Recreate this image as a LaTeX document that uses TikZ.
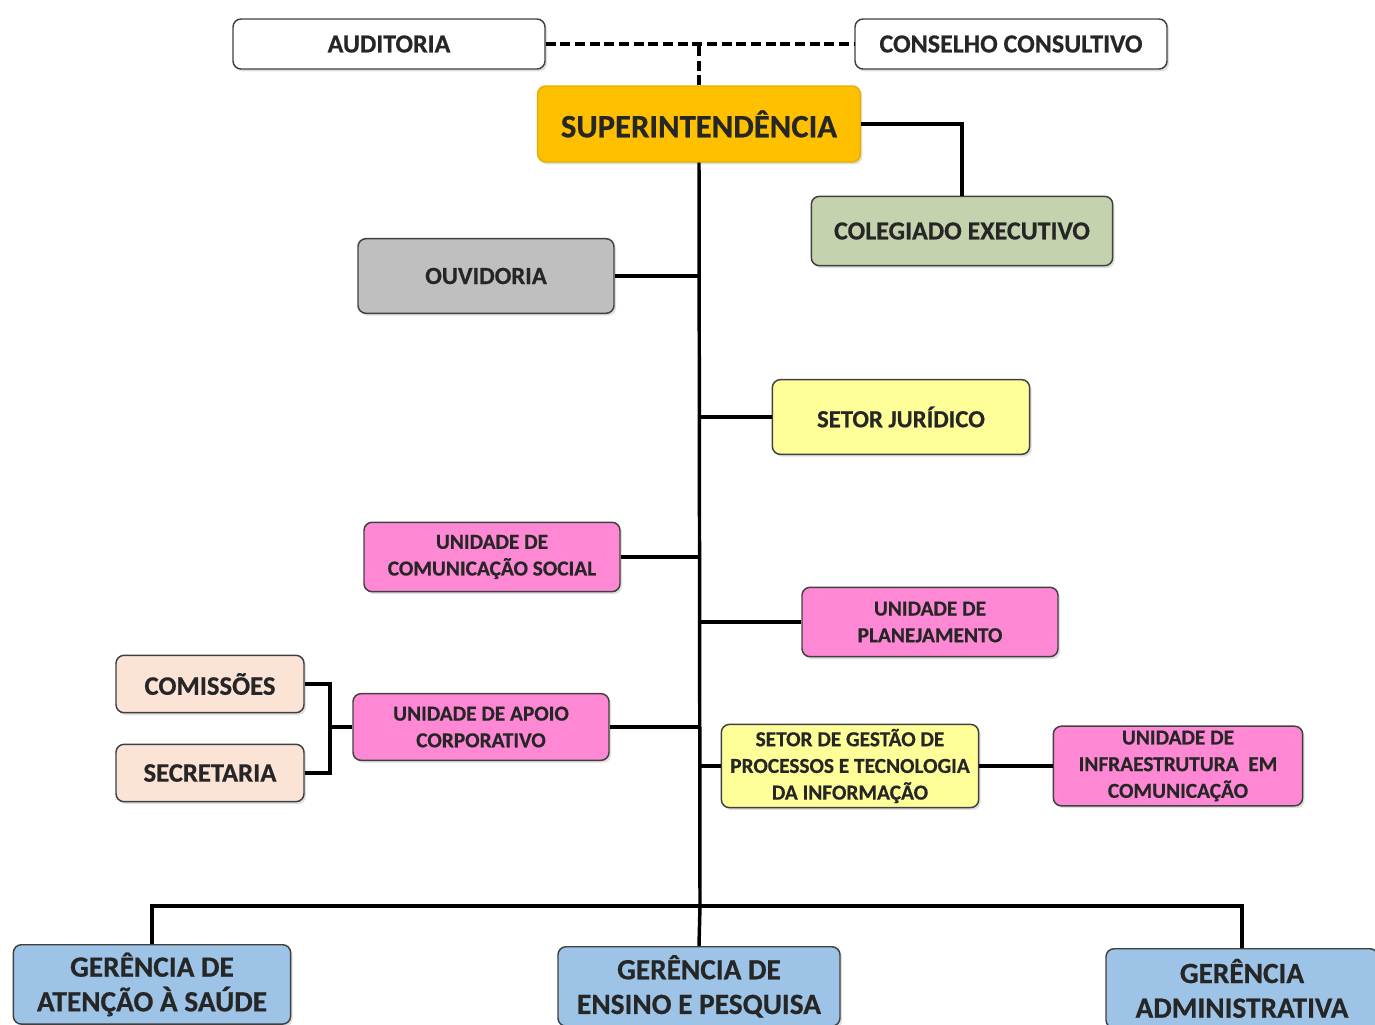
\documentclass[tikz,border=0pt]{standalone}
\usepackage{fontspec}
\setmainfont{Carlito}[BoldFeatures={FakeBold=0.6}]
\usetikzlibrary{shadows}

\definecolor{ouro}{HTML}{FFC000}
\definecolor{salvia}{HTML}{C4D3AE}
\definecolor{cinza}{HTML}{BFBFBF}
\definecolor{amarelo}{HTML}{FFFF99}
\definecolor{rosa}{HTML}{FF88D4}
\definecolor{pessego}{HTML}{FBE4D5}
\definecolor{azul}{HTML}{9DC3E6}

\begin{document}
\begin{tikzpicture}[x=0.75pt,y=-0.75pt]
        \tikzstyle{box} = [draw=black!75,line width=1.1pt,rounded corners=6pt,align=center,text=black!85,
          drop shadow={opacity=0.25,shadow xshift=1.5pt,shadow yshift=-1.8pt}]
        \tikzstyle{link} = [line width=2.6pt,black]
        \tikzstyle{dashlink} = [line width=2.8pt,black,dash pattern=on 7.5pt off 3.5pt]
        \tikzstyle{top} = [box,fill=white,minimum width=234pt,minimum height=37.5pt,font=\bfseries\fontsize{19.5}{22}\selectfont]
        \tikzstyle{unit} = [box,minimum width=192pt,inner xsep=1pt,font=\bfseries\fontsize{16}{20}\selectfont]
        \tikzstyle{side} = [box,fill=pessego,minimum width=141pt,minimum height=43pt,font=\bfseries\fontsize{20}{22}\selectfont]
        \tikzstyle{manager} = [box,fill=azul,anchor=north,minimum height=59.5pt,font=\bfseries\fontsize{22}{26}\selectfont]
        \clip (0,0) rectangle (1375,1025);
        % topo
        \node[top] (auditoria) at (389,44) {AUDITORIA};
        \node[top] (conselho) at (1011,44) {CONSELHO CONSULTIVO};
        \node[box,fill=ouro,draw=ouro!90!black,minimum width=242pt,minimum height=57pt,font=\bfseries\fontsize{24.5}{26}\selectfont] (super) at (699,124) {SUPERINTENDÊNCIA};
        \node[box,fill=salvia,minimum width=226pt,minimum height=52pt,font=\bfseries\fontsize{19.5}{22}\selectfont] (colegiado) at (962,231) {COLEGIADO EXECUTIVO};
        % unidades ao longo do eixo
        \node[unit,fill=cinza,minimum height=56pt,font=\bfseries\fontsize{18.5}{20}\selectfont] (ouvidoria) at (486,276) {OUVIDORIA};
        \node[unit,fill=amarelo,minimum width=193pt,minimum height=56pt,font=\bfseries\fontsize{18.5}{20}\selectfont] (juridico) at (901,417) {SETOR JURÍDICO};
        \node[unit,fill=rosa,minimum height=52pt] (comunicacao) at (492,557) {UNIDADE DE\\COMUNICAÇÃO SOCIAL};
        \node[unit,fill=rosa,minimum height=52pt] (planejamento) at (930,622) {UNIDADE DE\\PLANEJAMENTO};
        \node[unit,fill=rosa,minimum height=50pt] (apoio) at (481,727) {UNIDADE DE APOIO\\CORPORATIVO};
        \node[side] (comissoes) at (210,684) {COMISSÕES};
        \node[side] (secretaria) at (210,773) {SECRETARIA};
        \node[unit,fill=amarelo,minimum width=193pt,minimum height=61.5pt] (gestao) at (850,766) {SETOR DE GESTÃO DE\\PROCESSOS E TECNOLOGIA\\DA INFORMAÇÃO};
        \node[unit,fill=rosa,minimum width=187pt,minimum height=59pt] (infra) at (1178,766) {UNIDADE DE\\INFRAESTRUTURA\ \ EM\\COMUNICAÇÃO};
        % gerencias
        \node[manager,minimum width=208pt] (atencao) at (152,944) {GERÊNCIA DE\\ATENÇÃO À SAÚDE};
        \node[manager,minimum width=211.5pt] (ensino) at (699,946) {GERÊNCIA DE\\ENSINO E PESQUISA};
        \node[manager,minimum width=204pt] (admin) at (1242,948) {GERÊNCIA\\ADMINISTRATIVA};
        \coordinate (trunk) at (700,906);
        \coordinate (brace) at (330,727);
        % ligacoes
        \draw[dashlink] (auditoria.east) -- (conselho.west);
        \draw[dashlink] (super.north) -- (super.north |- auditoria.east);
        \draw[link] (super.east) -| (colegiado.north);
        \draw[link] (super.south) -- (trunk);
        \foreach \u in {ouvidoria,comunicacao,apoio}
          \draw[link] (\u.east) -- (\u.east -| trunk);
        \foreach \u in {juridico,planejamento,gestao}
          \draw[link] (\u.west) -- (\u.west -| trunk);
        \draw[link] (gestao.east) -- (infra.west);
        \draw[link] (comissoes.east) -| (brace) |- (secretaria.east);
        \draw[link] (brace) -- (apoio.west);
        \draw[link] (atencao.north) |- (trunk) -| (admin.north);
        \draw[link] (trunk) -- (ensino.north);
      \end{tikzpicture}
\end{document}
